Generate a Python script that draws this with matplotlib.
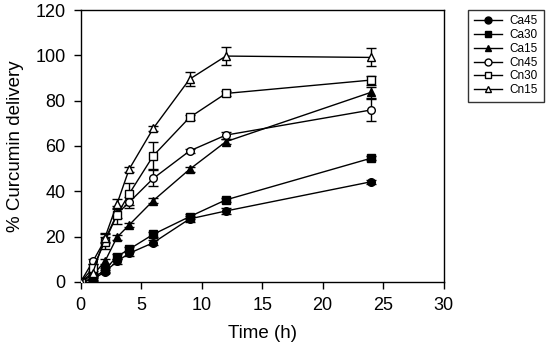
import matplotlib
matplotlib.use("Agg")
import matplotlib.pyplot as plt
from matplotlib.lines import Line2D

plt.rcParams['font.family'] = ['Liberation Sans', 'DejaVu Sans']

time = [0, 1, 2, 3, 4, 6, 9, 12, 24]
labels = ["Ca45", "Ca30", "Ca15", "Cn45", "Cn30", "Cn15"]
ca45 = [0, 1.0, 4.5, 9.0, 12.6, 17.3, 27.8, 31.3, 44.2]
ca30 = [0, 1.5, 5.3, 11.2, 14.4, 21.0, 28.8, 36.2, 54.6]
ca15 = [0, 3.0, 9.0, 19.7, 25.1, 35.9, 49.7, 61.9, 83.7]
cn45 = [0, 9.0, 18.5, 30.0, 35.1, 45.7, 57.8, 64.8, 75.9]
cn30 = [0, 6.0, 17.8, 29.6, 38.8, 55.7, 72.6, 83.2, 89.1]
cn15 = [0, 4.0, 19.5, 34.4, 49.7, 67.8, 89.5, 99.7, 99.1]
ca45_err = [0, 0.5, 0.8, 1.0, 1.0, 1.0, 1.5, 1.2, 1.0]
ca30_err = [0, 0.5, 0.8, 1.0, 1.0, 1.2, 1.0, 1.0, 1.0]
ca15_err = [0, 0.5, 1.0, 1.0, 1.0, 1.0, 1.0, 1.0, 2.5]
cn45_err = [0, 1.0, 1.5, 2.0, 2.5, 3.5, 1.0, 1.5, 5.0]
cn30_err = [0, 2.0, 3.5, 4.0, 5.0, 6.0, 1.0, 1.0, 2.0]
cn15_err = [0, 1.0, 2.0, 2.0, 1.0, 1.0, 3.0, 4.0, 4.0]

series = [ca45, ca30, ca15, cn45, cn30, cn15]
errs = [ca45_err, ca30_err, ca15_err, cn45_err, cn30_err, cn15_err]
markers = ['o', 's', '^', 'o', 's', '^']
fills = ['black', 'black', 'black', 'white', 'white', 'white']

fig = plt.figure(figsize=(5.5, 3.48), dpi=100)
ax = fig.add_axes([0.1467, 0.19, 0.660, 0.781])

handles = []
for y, e, m, fc, lab in zip(series, errs, markers, fills, labels):
    ax.errorbar(time, y, yerr=e, color='black', marker=m, markerfacecolor=fc,
                markeredgecolor='black', markersize=5.5, linewidth=1,
                elinewidth=1, capsize=3.5, capthick=1, zorder=3)
    handles.append(Line2D([], [], color='black', marker=m, markerfacecolor=fc,
                          markeredgecolor='black', markersize=5, linewidth=1))

ax.set_xlim(0, 30)
ax.set_ylim(0, 120)
ax.set_xticks(range(0, 31, 5))
ax.set_yticks(range(0, 121, 20))
ax.tick_params(direction='out', labelsize=13, length=5, width=1, pad=6)
for s in ax.spines.values():
    s.set_linewidth(1)
ax.set_xlabel("Time (h)", fontsize=13.5, labelpad=8)
ax.set_ylabel("% Curcumin delivery", fontsize=13.5, labelpad=8)

leg = fig.legend(handles, labels, loc='upper left',
                 bbox_to_anchor=(468/550, 1 - 9.5/348), fontsize=8.5,
                 frameon=True, fancybox=False, edgecolor='black',
                 handlelength=2.4, handletextpad=0.6, labelspacing=0.15,
                 borderpad=0.5, borderaxespad=0)
leg.get_frame().set_linewidth(1)

fig.savefig("out.png", dpi=100)
